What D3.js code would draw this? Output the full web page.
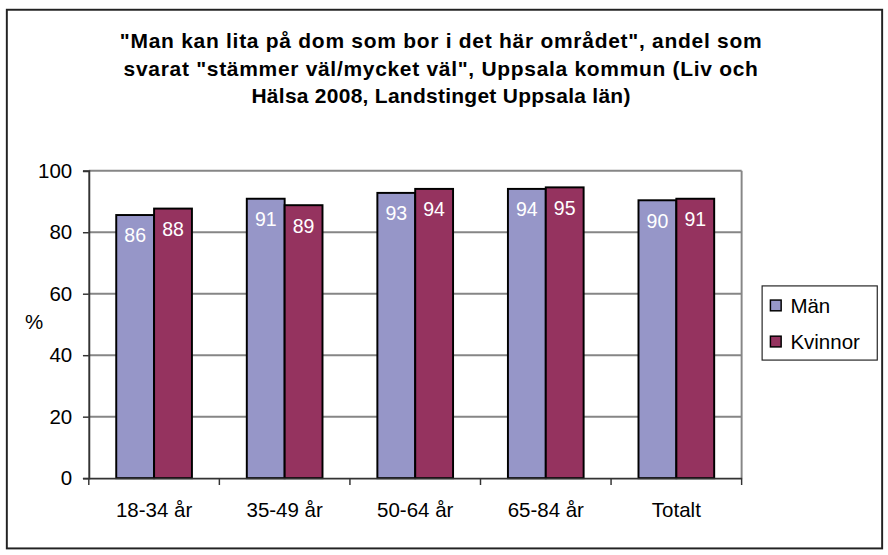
<!DOCTYPE html>
<html>
<head>
<meta charset="utf-8">
<script src="https://cdn.jsdelivr.net/npm/d3@7"></script>
<style>
  body { margin: 0; background: #fff; }
  svg { display: block; font-family: "Liberation Sans", Arial, sans-serif; }
</style>
</head>
<body>
<div id="chart"></div>
<script>
const titleLines = [
  '"Man kan lita på dom som bor i det här området", andel som',
  'svarat "stämmer väl/mycket väl", Uppsala kommun (Liv och',
  'Hälsa 2008, Landstinget Uppsala län)'
];
const categories = ['18-34 år', '35-49 år', '50-64 år', '65-84 år', 'Totalt'];
const seriesNames = ['Män', 'Kvinnor'];
const manValues = [85.6, 90.9, 92.8, 94.1, 90.4];
const kvinnorValues = [87.7, 88.8, 94.1, 94.6, 90.9];
const yTicks = [0, 20, 40, 60, 80, 100];
const colors = ['#9696c8', '#95335f'];

// layout is worked out on the chart's own 910x569 page, then fitted to the window
const outW = 888, outH = 555;
const width = 910, height = 569;
const k = outW / width;
const margin = { top: 175, right: 150, bottom: 79, left: 91 };
const titleSpacing = [0.75, 0.72, 0.28]; // Excel draws the title a bit looser

const root = d3.select('#chart').append('svg')
  .attr('width', outW)
  .attr('height', outH);

const svg = root.append('g')
  .attr('transform', `scale(${k})`);

// outer chart frame
svg.append('rect')
  .attr('x', 7).attr('y', 10)
  .attr('width', 897).attr('height', 552)
  .attr('fill', 'none')
  .attr('stroke', '#222')
  .attr('stroke-width', 2);

// title
svg.append('g')
  .attr('font-size', 21.5)
  .attr('font-weight', 'bold')
  .attr('text-anchor', 'middle')
  .selectAll('text')
  .data(titleLines)
  .join('text')
    .attr('x', 452)
    .attr('y', (d, i) => 49 + i * 28.5)
    .attr('letter-spacing', (d, i) => titleSpacing[i])
    .text(d => d);

const x0 = d3.scaleBand()
  .domain(categories)
  .range([margin.left, width - margin.right])
  .padding(0);

const gapWidth = 1.45;
const barW = x0.bandwidth() / (seriesNames.length + gapWidth);
const x1 = d3.scaleBand()
  .domain(seriesNames)
  .range([-barW, barW]);

const y = d3.scaleLinear()
  .domain([0, 100])
  .range([height - margin.bottom, margin.top]);

// gridlines
svg.append('g')
  .selectAll('line')
  .data(yTicks.filter(d => d > 0))
  .join('line')
    .attr('x1', margin.left)
    .attr('x2', width - margin.right)
    .attr('y1', d => y(d))
    .attr('y2', d => y(d))
    .attr('stroke', '#868686')
    .attr('stroke-width', 2);

// right plot border
svg.append('line')
  .attr('x1', width - margin.right).attr('x2', width - margin.right)
  .attr('y1', y(100)).attr('y2', y(0))
  .attr('stroke', '#868686')
  .attr('stroke-width', 2);

// bars
const groups = svg.append('g')
  .selectAll('g')
  .data(categories.map((c, i) => ({ cat: c, vals: [manValues[i], kvinnorValues[i]] })))
  .join('g')
    .attr('transform', d => `translate(${x0(d.cat) + x0.bandwidth() / 2},0)`);

const bars = groups.selectAll('g')
  .data(d => d.vals.map((v, i) => ({ name: seriesNames[i], value: v, color: colors[i] })))
  .join('g');

bars.append('rect')
  .attr('x', d => x1(d.name))
  .attr('y', d => y(d.value))
  .attr('width', x1.bandwidth())
  .attr('height', d => y(0) - y(d.value))
  .attr('fill', d => d.color)
  .attr('stroke', '#000')
  .attr('stroke-width', 2);

bars.append('text')
  .attr('x', d => x1(d.name) + x1.bandwidth() / 2)
  .attr('y', d => y(d.value) + 28)
  .attr('text-anchor', 'middle')
  .attr('fill', '#fff')
  .attr('font-size', 20)
  .text(d => d3.format('.0f')(d.value));

// y axis
const yAxis = svg.append('g')
  .attr('transform', `translate(${margin.left},0)`)
  .call(d3.axisLeft(y).tickValues(yTicks).tickSize(6).tickPadding(11));
yAxis.select('.domain').attr('stroke', '#333').attr('stroke-width', 2);
yAxis.selectAll('.tick line').attr('stroke', '#333').attr('stroke-width', 1.5);
yAxis.selectAll('.tick text')
  .attr('font-size', 21)
  .attr('font-family', '"Liberation Sans", Arial, sans-serif')
  .attr('fill', '#000');

// x axis
const xAxis = svg.append('g')
  .attr('transform', `translate(0,${y(0)})`)
  .call(d3.axisBottom(x0).tickSize(0).tickPadding(25));
xAxis.select('.domain').attr('stroke', '#333').attr('stroke-width', 2);
xAxis.selectAll('.tick text')
  .attr('font-size', 21)
  .attr('font-family', '"Liberation Sans", Arial, sans-serif')
  .attr('fill', '#000');

// category boundary ticks
const bounds = categories.map(c => x0(c)).concat([x0.range()[1]]);
xAxis.append('g')
  .selectAll('line')
  .data(bounds)
  .join('line')
    .attr('x1', d => d).attr('x2', d => d)
    .attr('y1', 0).attr('y2', 7)
    .attr('stroke', '#333')
    .attr('stroke-width', 1.5);

// y label
svg.append('text')
  .attr('x', 35)
  .attr('y', (y(0) + y(100)) / 2 + 5)
  .attr('text-anchor', 'middle')
  .attr('font-size', 21)
  .text('%');

// legend
const legend = svg.append('g')
  .attr('transform', 'translate(781,293)');
legend.append('rect')
  .attr('width', 118)
  .attr('height', 76)
  .attr('fill', '#fff')
  .attr('stroke', '#222')
  .attr('stroke-width', 1.2);
const item = legend.selectAll('g')
  .data(seriesNames)
  .join('g')
    .attr('transform', (d, i) => `translate(8,${20 + i * 37})`);
item.append('rect')
  .attr('x', 0.5)
  .attr('y', -5.5)
  .attr('width', 11)
  .attr('height', 11)
  .attr('fill', (d, i) => colors[i])
  .attr('stroke', '#000')
  .attr('stroke-width', 1.5);
item.append('text')
  .attr('x', 21)
  .attr('y', 0)
  .attr('dy', '0.35em')
  .attr('font-size', 21)
  .text(d => d);
</script>
</body>
</html>
